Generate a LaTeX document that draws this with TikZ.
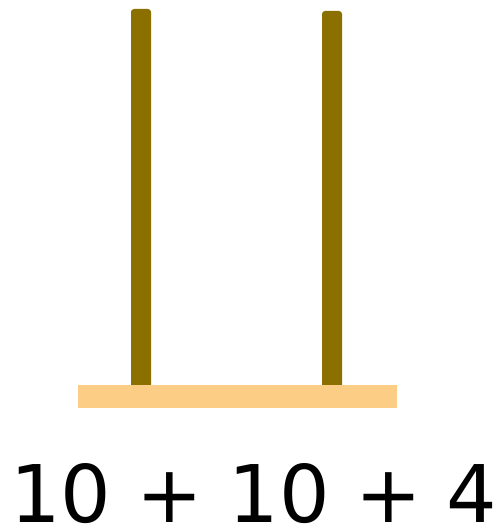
\documentclass[tikz,border=0pt]{standalone}
\usepackage{fontspec}
\setmainfont{DejaVu Sans}
\usetikzlibrary{positioning}
\definecolor{rodolive}{RGB}{139,112,0}
\definecolor{baseorange}{RGB}{252,205,133}

\begin{document}
\begin{tikzpicture}[
  x=1pt, y=-1pt,
  rod/.style={fill=rodolive, rounded corners=3pt},
  base/.style={fill=baseorange},
  sumtext/.style={font=\fontsize{79.5}{90}\selectfont, inner sep=0pt, anchor=base},
]
\useasboundingbox (0,0) rectangle (502,529);

% rods
\fill[rod] (131,391) rectangle (151,9);
\fill[rod] (322,391) rectangle (342,11);
% base bar
\fill[base] (78,385) rectangle (397,408);

\node[sumtext] (sum) at (254,522) {10 + 10 + 4};

\end{tikzpicture}
\end{document}
